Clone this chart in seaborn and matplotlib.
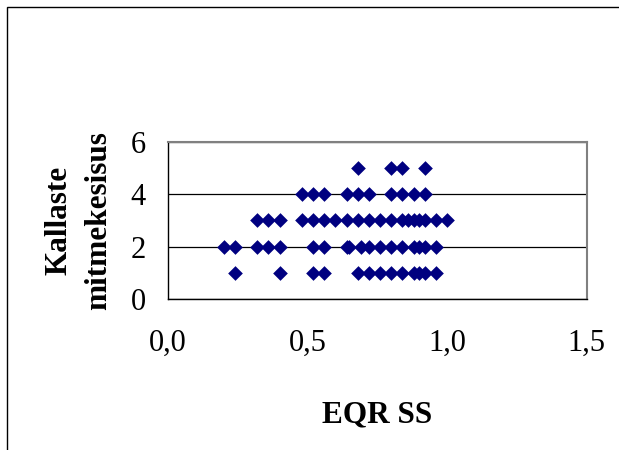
import matplotlib
matplotlib.use("Agg")
import matplotlib.pyplot as plt
import seaborn as sns
import pandas as pd
from matplotlib.patches import Rectangle

# ---- data ----
x_div5 = [0.68, 0.80, 0.84, 0.92]
x_div4 = [0.48, 0.52, 0.56, 0.64, 0.68, 0.72, 0.80, 0.84, 0.88, 0.92]
x_div3 = [0.32, 0.36, 0.40, 0.48, 0.52, 0.56, 0.60, 0.64, 0.68, 0.72,
          0.76, 0.80, 0.84, 0.86, 0.88, 0.90, 0.92, 0.96, 1.00]
x_div2 = [0.20, 0.24, 0.32, 0.36, 0.40, 0.52, 0.56, 0.64, 0.65, 0.69,
          0.72, 0.76, 0.80, 0.84, 0.88, 0.90, 0.92, 0.96]
x_div1 = [0.24, 0.40, 0.52, 0.56, 0.68, 0.72, 0.76, 0.80, 0.84, 0.88,
          0.90, 0.92, 0.96]
diversity_levels = [5, 4, 3, 2, 1]

x_ticks = [0.0, 0.5, 1.0, 1.5]
x_tick_labels = ["0,0", "0,5", "1,0", "1,5"]
y_ticks = [0, 2, 4, 6]
y_tick_labels = ["0", "2", "4", "6"]
x_title = "EQR SS"
y_title = "Kallaste\nmitmekesisus"

rows = []
for lvl, xs in zip(diversity_levels, [x_div5, x_div4, x_div3, x_div2, x_div1]):
    for xv in xs:
        rows.append({"EQR SS": xv, "Kallaste mitmekesisus": lvl})
df = pd.DataFrame(rows)

# ---- style ----
sns.set_style("white")
plt.rcParams["font.family"] = ["Liberation Serif", "DejaVu Serif"]

W, H = 619, 450
fig = plt.figure(figsize=(W / 100, H / 100), dpi=100)
left, right, top, bottom = 168, 586.7, 141.7, 299.3
ax = fig.add_axes([left / W, 1 - bottom / H, (right - left) / W, (bottom - top) / H])

sns.scatterplot(data=df, x="EQR SS", y="Kallaste mitmekesisus", marker="D",
                s=56, color="#000080", edgecolor="#000080", linewidth=0,
                ax=ax, legend=False, zorder=3)

ax.set_xlim(0, 1.5)
ax.set_ylim(0, 6)
ax.set_xticks(x_ticks)
ax.set_xticklabels(x_tick_labels)
ax.set_yticks(y_ticks)
ax.set_yticklabels(y_tick_labels)

ax.yaxis.grid(True, color="black", linewidth=0.9)
ax.xaxis.grid(False)
ax.set_axisbelow(True)

for s in ["left", "bottom"]:
    ax.spines[s].set_color("black")
    ax.spines[s].set_linewidth(1.0)
for s in ["top", "right"]:
    ax.spines[s].set_color("#808080")
    ax.spines[s].set_linewidth(1.5)

ax.tick_params(axis="both", direction="out", length=7, width=1, color="black",
               labelsize=22, labelcolor="black")
ax.tick_params(axis="x", pad=14)
ax.tick_params(axis="y", pad=9)

ax.set_xlabel(x_title, fontsize=22.5, fontweight="bold", color="black")
ax.xaxis.set_label_coords(0.5, -0.64)
ax.set_ylabel(y_title, fontsize=22.5, fontweight="bold", color="black",
              linespacing=1.5)
ax.yaxis.set_label_coords(-0.13, 0.5)

fig.add_artist(Rectangle((6.5 / W, -0.1), 2, 1 - 6.5 / H + 0.1,
                         transform=fig.transFigure, fill=False,
                         edgecolor="black", linewidth=1.0))

fig.savefig("out.png", dpi=100)
